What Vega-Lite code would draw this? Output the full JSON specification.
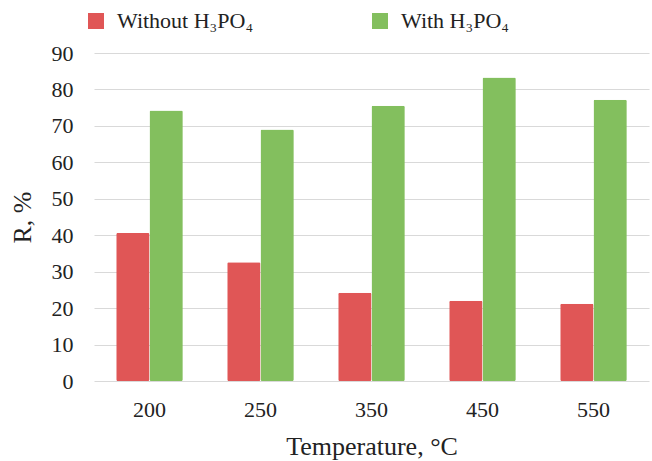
{
  "$schema": "https://vega.github.io/schema/vega-lite/v6.json",
  "width": 555,
  "height": 328,
  "autosize": "none",
  "padding": {"left": 94, "top": 53, "right": 3, "bottom": 80},
  "config": {
    "view": {"stroke": null},
    "font": "Liberation Serif",
    "axis": {"labelFont": "Liberation Serif", "titleFont": "Liberation Serif", "labelColor": "#222222", "titleColor": "#222222", "titleFontWeight": "normal"},
    "legend": {"labelFont": "Liberation Serif"}
  },
  "data": {
    "values": [
      {"T": "200", "series": "Without H₃PO₄", "R": 40.6},
      {"T": "200", "series": "With H₃PO₄", "R": 74.2},
      {"T": "250", "series": "Without H₃PO₄", "R": 32.6},
      {"T": "250", "series": "With H₃PO₄", "R": 69.0},
      {"T": "350", "series": "Without H₃PO₄", "R": 24.2},
      {"T": "350", "series": "With H₃PO₄", "R": 75.5},
      {"T": "450", "series": "Without H₃PO₄", "R": 22.0},
      {"T": "450", "series": "With H₃PO₄", "R": 83.3},
      {"T": "550", "series": "Without H₃PO₄", "R": 21.2},
      {"T": "550", "series": "With H₃PO₄", "R": 77.2}
    ]
  },
  "mark": {"type": "bar", "cornerRadius": 1.5},
  "encoding": {
    "x": {
      "field": "T",
      "type": "ordinal",
      "sort": null,
      "scale": {"paddingInner": 0.4, "paddingOuter": 0.2},
      "axis": {
        "title": "Temperature, °C",
        "labelAngle": 0,
        "domain": false,
        "ticks": false,
        "grid": false,
        "labelFont": "Liberation Serif",
        "titleFont": "Liberation Serif",
        "labelPadding": 18,
        "labelFontSize": 22,
        "titleFontSize": 26,
        "titlePadding": 13
      }
    },
    "xOffset": {
      "field": "series",
      "type": "nominal",
      "sort": ["Without H₃PO₄", "With H₃PO₄"]
    },
    "y": {
      "field": "R",
      "type": "quantitative",
      "scale": {"domain": [0, 90]},
      "axis": {
        "title": "R, %",
        "values": [0, 10, 20, 30, 40, 50, 60, 70, 80, 90],
        "domain": false,
        "ticks": false,
        "grid": true,
        "gridColor": "#d9d9d9",
        "gridWidth": 1,
        "labelFont": "Liberation Serif",
        "titleFont": "Liberation Serif",
        "labelPadding": 21,
        "labelFontSize": 22,
        "titleFontSize": 26,
        "titlePadding": 16
      }
    },
    "color": {
      "field": "series",
      "type": "nominal",
      "scale": {"domain": ["Without H₃PO₄", "With H₃PO₄"], "range": ["#E05656", "#83BF5E"]},
      "legend": {
        "title": null,
        "orient": "none",
        "legendX": -9,
        "legendY": -43,
        "direction": "horizontal",
        "symbolType": "square",
        "symbolSize": 256,
        "symbolStrokeWidth": 0,
        "labelFont": "Liberation Serif",
        "labelFontSize": 22,
        "labelColor": "#222222",
        "labelOffset": 10,
        "columnPadding": 115
      }
    }
  }
}
